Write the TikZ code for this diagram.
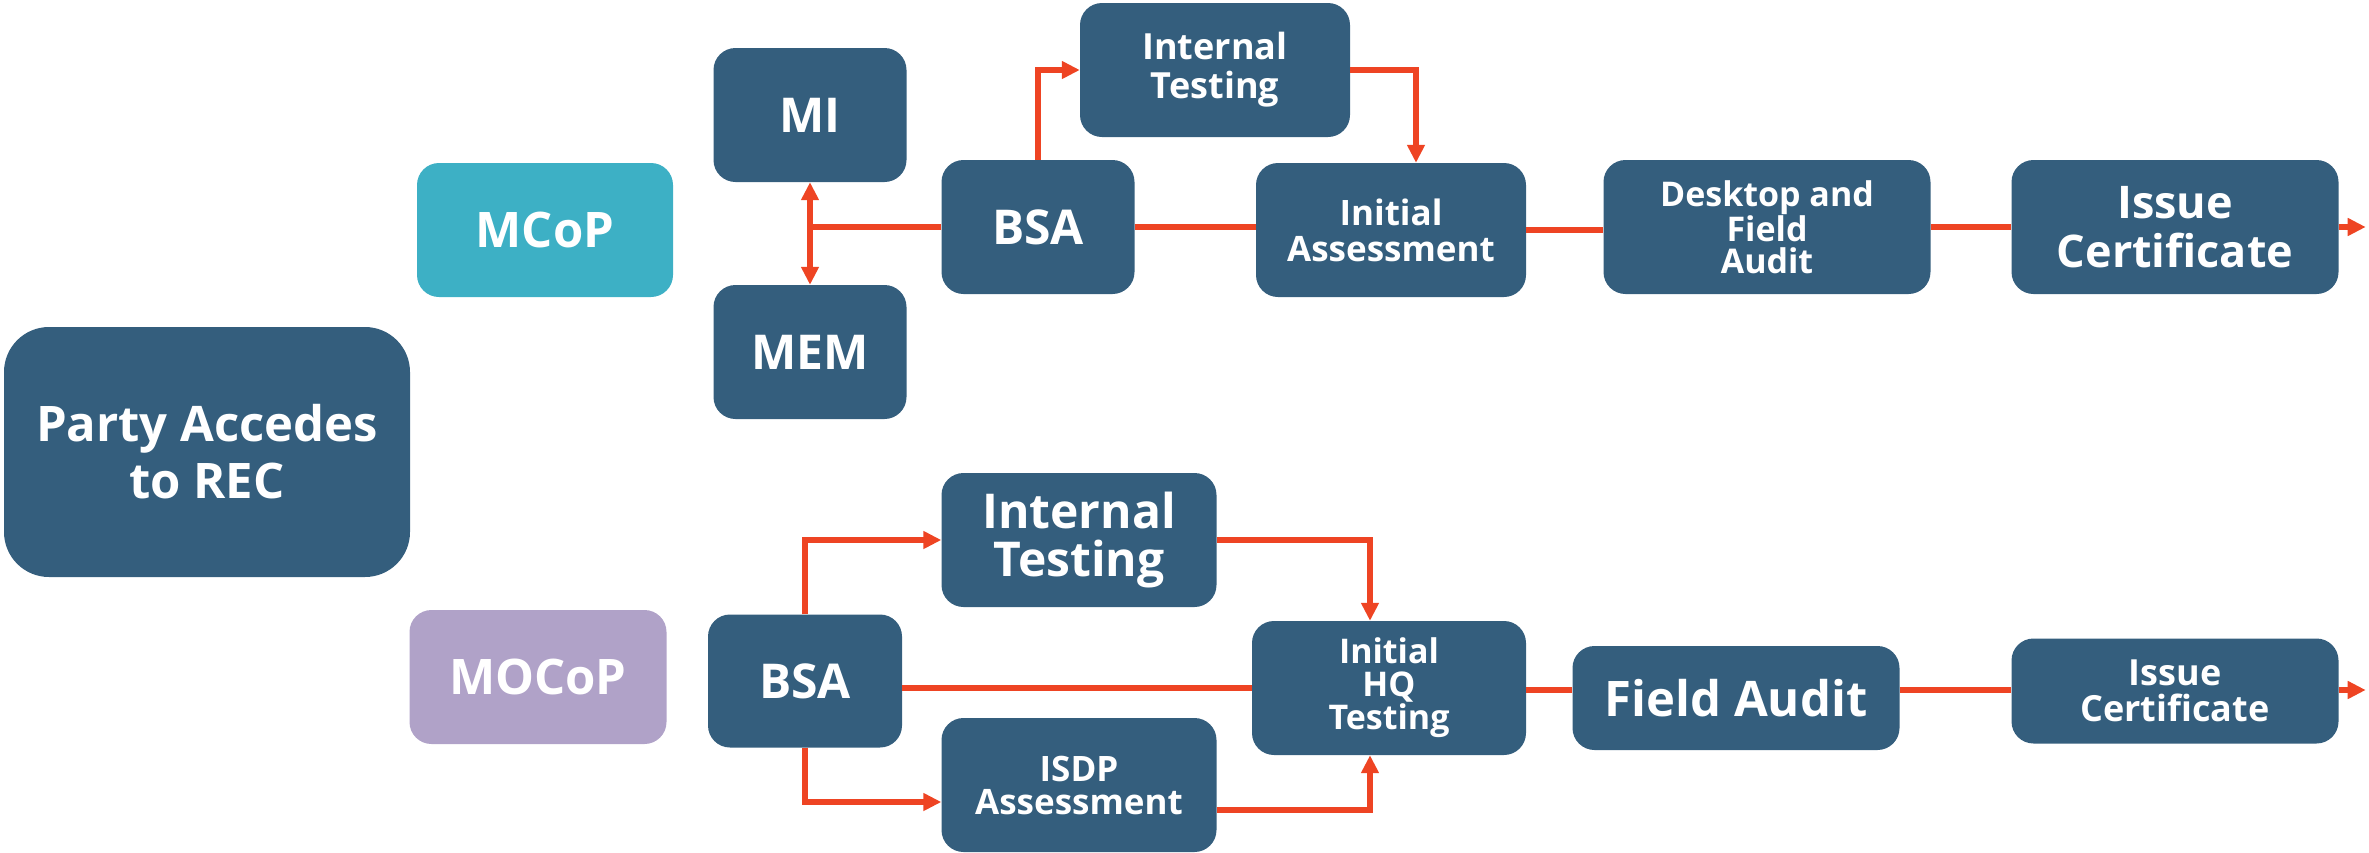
\documentclass[tikz,border=0pt]{standalone}
\usepackage{fontspec}
\setmainfont{Open Sans}
\usetikzlibrary{arrows.meta}
\definecolor{boxblue}{HTML}{345E7D}
\definecolor{mcopteal}{HTML}{3DB0C5}
\definecolor{mocoplilac}{HTML}{B0A2C8}
\definecolor{linered}{HTML}{EE4423}
\tikzset{
	box/.style={fill=boxblue,text=white,rounded corners=22pt,inner sep=0pt,align=center,font=\bfseries},
	line/.style={draw=linered,line width=5.5pt},
	flow/.style={line,-{Triangle[length=18pt,width=17pt]}},
}
\begin{document}
\begin{tikzpicture}[x=1pt,y=-1pt]
				\useasboundingbox (0,0) rectangle (2369,852);
				% left column
				\node[box,rounded corners=45pt,minimum width=406pt,minimum height=250pt,font=\bfseries\fontsize{49}{57}\selectfont] (party) at (207,452) {Party Accedes\\to REC};
				\node[box,fill=mcopteal,minimum width=256pt,minimum height=134pt,font=\bfseries\fontsize{49}{57}\selectfont] (mcop) at (545,230) {MCoP};
				\node[box,fill=mocoplilac,minimum width=257pt,minimum height=134pt,font=\bfseries\fontsize{49}{57}\selectfont] (mocop) at (538,677) {MOCoP};
				% MCoP row
				\node[box,minimum width=193pt,minimum height=134pt,font=\bfseries\fontsize{48}{52}\selectfont] (mi) at (810,115) {MI};
				\node[box,minimum width=193pt,minimum height=134pt,font=\bfseries\fontsize{48}{52}\selectfont] (mem) at (810,352) {MEM};
				\node[box,minimum width=193pt,minimum height=134pt,font=\bfseries\fontsize{48}{52}\selectfont] (bsaA) at (1038,227) {BSA};
				\node[box,minimum width=270pt,minimum height=134pt,font=\bfseries\fontsize{36}{39}\selectfont] (itA) at (1215,70) {Internal\\Testing};
				\node[box,minimum width=270pt,minimum height=134pt,font=\bfseries\fontsize{35}{36}\selectfont] (iaA) at (1391,230) {Initial\\Assessment};
				\node[box,minimum width=327pt,minimum height=134pt,font=\bfseries\fontsize{34}{32}\selectfont] (dfa) at (1767,227) {Desktop and\\Field\\Audit};
				\node[box,minimum width=327pt,minimum height=134pt,font=\bfseries\fontsize{45}{49}\selectfont] (icA) at (2175,227) {Issue\\Certificate};
				% MOCoP row
				\node[box,minimum width=194pt,minimum height=133pt,font=\bfseries\fontsize{48}{52}\selectfont] (bsaB) at (805,681) {BSA};
				\node[box,minimum width=275pt,minimum height=134pt,font=\bfseries\fontsize{48}{48}\selectfont] (itB) at (1079,540) {Internal\\Testing};
				\node[box,minimum width=275pt,minimum height=134pt,font=\bfseries\fontsize{35}{33}\selectfont] (isdp) at (1079,785) {ISDP\\Assessment};
				\node[box,minimum width=274pt,minimum height=134pt,font=\bfseries\fontsize{34}{33}\selectfont] (ihq) at (1389,688) {Initial\\HQ\\Testing};
				\node[box,minimum width=327pt,minimum height=104pt,font=\bfseries\fontsize{49}{52}\selectfont] (faB) at (1736,698) {Field Audit};
				\node[box,minimum width=327pt,minimum height=105pt,font=\bfseries\fontsize{36}{36}\selectfont] (icB) at (2175,691) {Issue\\Certificate};
				% connectors, top
				\draw[flow,{Triangle[length=18pt,width=17pt]}-{Triangle[length=18pt,width=17pt]}] (mi) -- (mem);
				\draw[line] (bsaA.west) -- (bsaA.west -| mi.south);
				\draw[flow] (bsaA.north) |- (itA.west);
				\draw[flow] (itA.east) -| ([xshift=25pt]iaA.north);
				\foreach \a/\b in {bsaA/iaA,iaA/dfa,dfa/icA}
				\draw[line] (\a.east) -- (\a.east -| \b.west);
				\draw[flow] (icA.east) -- ++(27,0);
				% connectors, bottom
				\draw[flow] (bsaB.north) |- (itB.west);
				\draw[flow] (bsaB.south) |- ([yshift=-17pt]isdp.west);
				\draw[flow] (itB.east) -| ([xshift=-19pt]ihq.north);
				\draw[flow] ([yshift=-25pt]isdp.east) -| ([xshift=-19pt]ihq.south);
				\draw[line] (ihq.west -| bsaB.east) -- (ihq.west);
				\draw[line] ([yshift=-2pt]ihq.east) -- ([yshift=-2pt]ihq.east -| faB.west);
				\draw[line] ([yshift=-2pt]ihq.east -| faB.east) -- ([yshift=-2pt]ihq.east -| icB.west);
				\draw[flow] ([yshift=-2pt]ihq.east -| icB.east) -- ++(27,0);
			\end{tikzpicture}
\end{document}
